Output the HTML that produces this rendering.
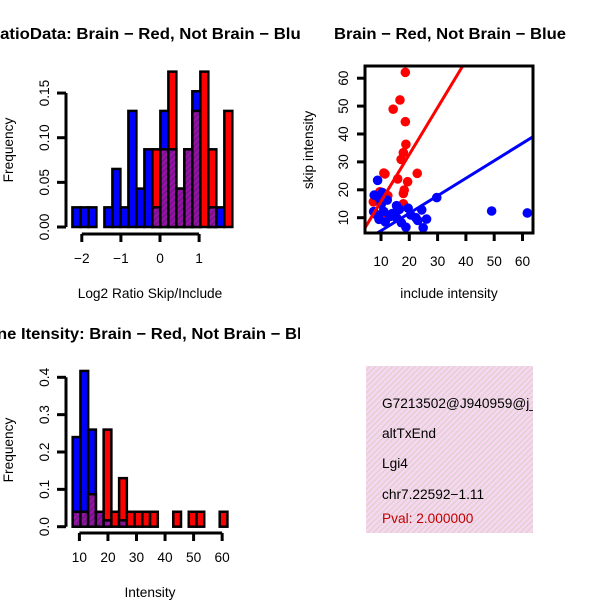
<!DOCTYPE html>
<html><head><meta charset="utf-8"><style>
html,body{margin:0;padding:0;background:#fff}
svg{display:block;font-family:"Liberation Sans",Arial,sans-serif}
</style></head><body>
<svg id="c" width="600" height="600" viewBox="0 0 600 600">
<defs>
<pattern id="purp" width="4" height="4" patternUnits="userSpaceOnUse" patternTransform="rotate(45)">
<rect width="4" height="4" fill="#9a10a8"/><rect width="1.5" height="4" fill="#6a1a80"/></pattern>
<pattern id="pink" width="4" height="4" patternUnits="userSpaceOnUse" patternTransform="rotate(45)">
<rect width="4" height="4" fill="#f8d6f2"/><rect width="1.3" height="4" fill="#dcd2cc"/></pattern>
<clipPath id="p1"><rect x="0" y="0" width="300" height="300"/></clipPath>
<clipPath id="p3"><rect x="0" y="300" width="300" height="300"/></clipPath>
<clipPath id="p2"><rect x="366" y="67" width="166" height="165"/></clipPath>
<clipPath id="p4"><rect x="366" y="366" width="167" height="167"/></clipPath>
</defs>
<g id="g1"></g>
<g id="g2"></g>
<g id="g3"></g>
<g id="g4">
<rect x="366" y="366" width="167" height="167" fill="url(#pink)"/>
<g clip-path="url(#p4)" font-size="13.7">
<text x="382" y="408">G7213502@J940959@j_</text>
<text x="382" y="438">altTxEnd</text>
<text x="382" y="468">Lgi4</text>
<text x="382" y="499">chr7.22592−1.11</text>
<text x="382" y="523" fill="#c00000">Pval: 2.000000</text>
</g></g>
</svg>
<script>
// Panel 1: log2 ratio histogram
const ratioBlue=[0.022,0.022,0.022,0,0.022,0.065,0.022,0.13,0.043,0.087,0.022,0.13,0.087,0.043,0.087,0.152,0,0.022,0.022,0];
const ratioRed=[0,0,0,0,0,0,0,0,0,0,0.087,0.087,0.174,0.043,0.087,0.13,0.174,0.087,0,0.13];
const ratioStart=-2.24, ratioWidth=0.2045;
const ratioXTicks=[-2,-1,0,1];
const ratioYTicks=[0,0.05,0.10,0.15];
const ratioYLabels=["0.00","0.05","0.10","0.15"];
// Panel 2: scatter
const redInc=[18.6,16.7,14.3,18.6,18.8,17.9,17.1,22.8,11.4,15.9,19.4,18.2,17.9,9.6,12.4,7.3,17.9,10.8,10.8,9.3,11.0,12.0];
const redSkip=[62.1,52.2,48.9,44.4,36.3,33.3,30.9,25.9,25.7,23.9,22.9,19.9,18.7,19.3,17.9,15.7,15,12.2,9.9,11,26,17];
const blueInc=[8.8,7.6,15.5,19.6,29.7,49.1,61.7,26.1,24.9,18.8,24.4,22.3,13.2,11.0,9.3,10.1,15.5,17.2,12.2,7.4,9.3,20.5,14,11.5,8.5,16.5,23,10.5];
const blueSkip=[23.4,18.1,14.3,13.4,17.2,12.4,11.7,9.5,6.4,6.6,12.8,10,10.4,12.2,9.4,14.8,10,8.2,16.3,12.2,17,11,11.5,8.5,11,13,9,19];
const redFit=[-0.93,1.68], blueFit=[-0.93,0.627];
const scX=[10,20,30,40,50,60], scY=[10,20,30,40,50,60];
// Panel 3: intensity histogram
const intBlue=[0.24,0.417,0.26,0.04,0.017,0,0.017,0,0,0,0,0,0,0,0,0,0,0,0,0];
const intRed=[0.04,0.04,0.087,0.04,0.26,0.04,0.13,0.04,0.04,0.04,0.04,0,0,0.04,0,0.04,0.04,0,0,0.04];
const intStart=7.65, intWidth=2.71;
const intXTicks=[10,20,30,40,50,60];
const intYTicks=[0,0.1,0.2,0.3,0.4];
const intYLabels=["0.0","0.1","0.2","0.3","0.4"];

const FS=13.7;
const NS="http://www.w3.org/2000/svg";
function mk(parent,tag,attrs,txt){const e=document.createElementNS(NS,tag);for(const k in attrs)e.setAttribute(k,attrs[k]);if(txt!==undefined)e.textContent=txt;parent.appendChild(e);return e;}

function hist(g,blue,red,start,width,xs,ys,xticks,yticks,ylabels,xaxisY,yaxisX,tickFmt){
  for(let i=0;i<blue.length;i++){
    const x0=xs(start+i*width),x1=xs(start+(i+1)*width);
    const b=blue[i],r=red[i],hi=Math.max(b,r),lo=Math.min(b,r);
    if(hi>0){
      const e=mk(g,'rect',{x:x0,y:ys(hi),width:x1-x0,height:ys(0)-ys(hi),fill:b>=r?'#0000ff':'#ff0000',stroke:'#000','stroke-width':2.5});
      
      
    }
    if(lo>0){
      const e=mk(g,'rect',{x:x0,y:ys(lo),width:x1-x0,height:ys(0)-ys(lo),fill:'url(#purp)',stroke:'#000','stroke-width':2.5});
      
      
    }
  }
  const ax=mk(g,'line',{x1:xs(xticks[0]),x2:xs(xticks[xticks.length-1]),y1:xaxisY,y2:xaxisY,stroke:'#000','stroke-width':3});
  
  
  xticks.forEach(t=>{
    mk(g,'line',{x1:xs(t),x2:xs(t),y1:xaxisY,y2:xaxisY+8,stroke:'#000','stroke-width':3});
    const l=mk(g,'text',{x:xs(t),y:xaxisY+29,'text-anchor':'middle','font-size':FS},tickFmt(t));
    
    
  });
  const ay=mk(g,'line',{x1:yaxisX,x2:yaxisX,y1:ys(yticks[0]),y2:ys(yticks[yticks.length-1]),stroke:'#000','stroke-width':3});
  
  
  yticks.forEach((t,i)=>{
    mk(g,'line',{x1:yaxisX-9,x2:yaxisX,y1:ys(t),y2:ys(t),stroke:'#000','stroke-width':3});
    const l=mk(g,'text',{x:0,y:0,'text-anchor':'middle','font-size':FS,transform:`translate(${yaxisX-17},${ys(t)}) rotate(-90)`},ylabels[i]);
    
    
  });
}
function fmtMinus(t){return String(t).replace('-','−');}

// Panel 1
const g1=document.getElementById('g1');
const x1s=v=>160+v*39.1, y1s=v=>227-v*893;
hist(g1,ratioBlue,ratioRed,ratioStart,ratioWidth,x1s,y1s,ratioXTicks,ratioYTicks,ratioYLabels,234,66,fmtMinus);
let t=mk(g1,'text',{x:-12,y:39,'font-size':15.5,'font-weight':'bold','clip-path':'url(#p1)',textLength:322,lengthAdjust:'spacingAndGlyphs'},'RatioData: Brain − Red, Not Brain − Blue');

t=mk(g1,'text',{x:150,y:298,'text-anchor':'middle','font-size':FS},'Log2 Ratio Skip/Include');

t=mk(g1,'text',{x:0,y:0,'text-anchor':'middle','font-size':FS,transform:'translate(13,150) rotate(-90)'},'Frequency');


// Panel 2
const g2=document.getElementById('g2');
const x2s=v=>381+(v-10)*2.83, y2s=v=>217.7-(v-10)*2.79;
const plot2=mk(g2,'g',{'clip-path':'url(#p2)'});
redInc.forEach((v,i)=>{const c=mk(plot2,'circle',{cx:x2s(v),cy:y2s(redSkip[i]),r:4.8,fill:'#ff0000'});
});
blueInc.forEach((v,i)=>{const c=mk(plot2,'circle',{cx:x2s(v),cy:y2s(blueSkip[i]),r:4.8,fill:'#0000ff'});
});
[[redFit,'#ff0000','fit-line-brain'],[blueFit,'#0000ff','fit-line-not-brain']].forEach(([f,col,nm])=>{
  const l=mk(plot2,'line',{x1:x2s(0),y1:y2s(f[0]),x2:x2s(70),y2:y2s(f[0]+f[1]*70),stroke:col,'stroke-width':3});
  
});
t=mk(g2,'rect',{x:365,y:66,width:168,height:167,fill:'none',stroke:'#000','stroke-width':3});

scX.forEach(v=>{mk(g2,'line',{x1:x2s(v),x2:x2s(v),y1:233,y2:241,stroke:'#000','stroke-width':3});
const l=mk(g2,'text',{x:x2s(v),y:266,'text-anchor':'middle','font-size':FS},v);
});
scY.forEach(v=>{mk(g2,'line',{x1:357,x2:365,y1:y2s(v),y2:y2s(v),stroke:'#000','stroke-width':3});
const l=mk(g2,'text',{x:0,y:0,'text-anchor':'middle','font-size':FS,transform:`translate(348,${y2s(v)}) rotate(-90)`},v);
});
t=mk(g2,'text',{x:450,y:39,'text-anchor':'middle','font-size':15.5,'font-weight':'bold',textLength:232,lengthAdjust:'spacingAndGlyphs'},'Brain − Red, Not Brain − Blue');

t=mk(g2,'text',{x:449,y:298,'text-anchor':'middle','font-size':FS},'include intensity');

t=mk(g2,'text',{x:0,y:0,'text-anchor':'middle','font-size':FS,transform:'translate(313,150) rotate(-90)'},'skip intensity');


// Panel 3
const g3=document.getElementById('g3');
const x3s=v=>79.4+(v-10)*2.855, y3s=v=>526.7-v*373.5;
hist(g3,intBlue,intRed,intStart,intWidth,x3s,y3s,intXTicks,intYTicks,intYLabels,533,66,String);
t=mk(g3,'text',{x:-3,y:339,'font-size':15.5,'font-weight':'bold','clip-path':'url(#p3)',textLength:324,lengthAdjust:'spacingAndGlyphs'},'ne Itensity: Brain − Red, Not Brain − Blue');

t=mk(g3,'text',{x:150,y:597,'text-anchor':'middle','font-size':FS},'Intensity');

t=mk(g3,'text',{x:0,y:0,'text-anchor':'middle','font-size':FS,transform:'translate(13,450) rotate(-90)'},'Frequency');

</script>
</body></html>
